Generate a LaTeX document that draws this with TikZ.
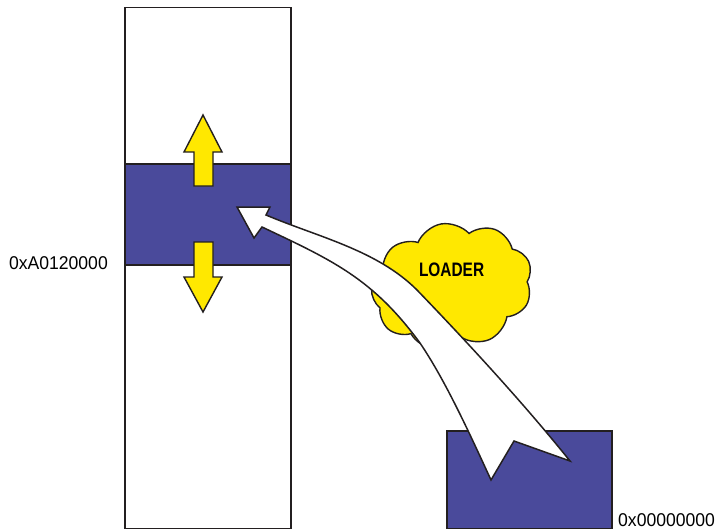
\documentclass[tikz,border=0pt]{standalone}
\usepackage{fontspec}
\usepackage{tikz}
\usetikzlibrary{shapes.symbols}
\newfontfamily\addrfont[FakeStretch=0.95]{Liberation Sans}
\newfontfamily\loaderfont[FakeStretch=0.79]{Liberation Sans}
\definecolor{memblue}{RGB}{74,74,155}
\definecolor{loadyellow}{RGB}{255,232,0}
\definecolor{inkline}{RGB}{35,31,32}

\begin{document}
\begin{tikzpicture}[
  x=1pt, y=-1pt,
  memcol/.style={draw=inkline, line width=1.6pt, fill=white},
  memblock/.style={draw=inkline, line width=1.6pt, fill=memblue},
  shiftarrow/.style={draw=inkline, line width=1.4pt, fill=loadyellow},
  loadarrow/.style={draw=inkline, line width=1.5pt, fill=white},
  loadercloud/.style={cloud, cloud puffs=9, cloud puff arc=115, cloud ignores aspect,
              draw=inkline, line width=1.4pt, fill=loadyellow,
              minimum width=162pt, minimum height=126pt, inner sep=0pt},
  addrlabel/.style={font=\addrfont\fontsize{18.5}{20}\selectfont, inner sep=0pt}
]
\useasboundingbox (0,0) rectangle (720,530);

% memory column and the relocated block
\draw[memcol] (125,7.5) rectangle (291,528.5);
\draw[memblock] (125,164) rectangle (291,265);
\draw[memblock] (447,431) rectangle (612,528.5);

% block may move up or down
\draw[shiftarrow] (194,186) -- (194,152) -- (184,152) -- (203,115) -- (222,152)
      -- (213,152) -- (213,186) -- cycle;
\draw[shiftarrow] (194,242) -- (213,242) -- (213,277) -- (222,277) -- (203,312)
      -- (184,277) -- (194,277) -- cycle;

% loader
\node[loadercloud, rotate=10] (loader) at (452,286) {};
\node[font=\loaderfont\bfseries\fontsize{19.5}{20}\selectfont, inner sep=0pt,
      anchor=base] (loadertext) at (451.6,276) {LOADER};

% copy from image to memory
\draw[loadarrow] (237,207) -- (270,207) -- (266,215)
      .. controls (318,237) and (377,250) .. (417,290)
      .. controls (470,345) and (525,405) .. (570,461)
      -- (514,441) -- (491,480)
      .. controls (468,430) and (445,380) .. (420,343)
      .. controls (373,279) and (334,261) .. (262,227)
      -- (254,238) -- cycle;

\node[addrlabel, anchor=base east] (loadaddr) at (108,269) {0xA0120000};
\node[addrlabel, anchor=base west] (baseaddr) at (618,526.5) {0x00000000};
\end{tikzpicture}
\end{document}
